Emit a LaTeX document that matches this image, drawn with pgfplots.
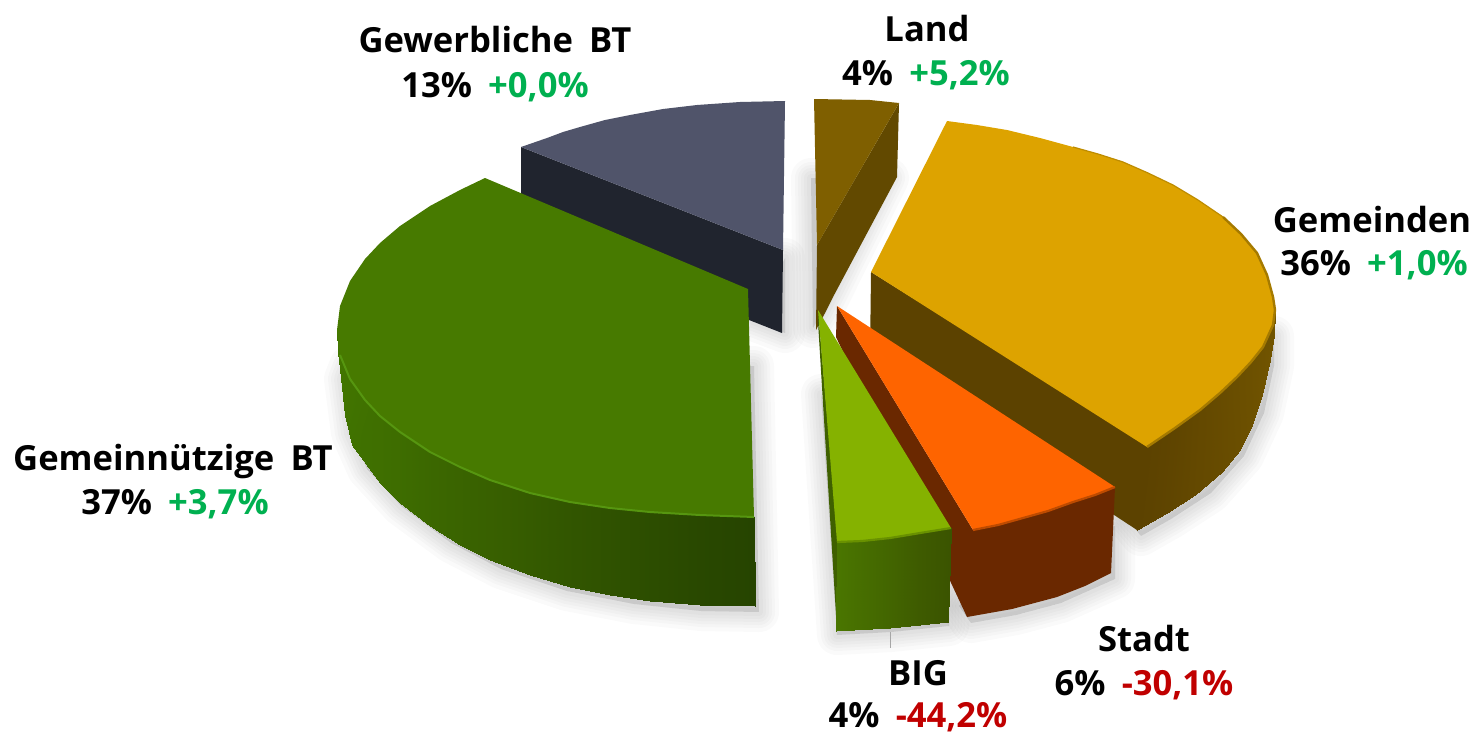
\documentclass[border=0pt]{standalone}
\usepackage{pgfplots}
\usepackage{pgfplotstable}
\usepackage{fontspec}
\setmainfont[WordSpace=1.8]{Open Sans}
\pgfplotsset{compat=1.18}
\definecolor{tgreen}{HTML}{00B050}
\definecolor{tred}{HTML}{C00000}
\pgfplotsset{
 colormap={mgreen}{rgb255=(66,118,0) rgb255=(55,94,0) rgb255=(38,68,0)},
 colormap={mgold}{rgb255=(114,85,0) rgb255=(92,66,0)},
 colormap={mlight}{rgb255=(74,118,0) rgb255=(59,84,0)},
}
\tikzset{lbl/.style={font=\fontsize{17.3}{20}\selectfont\bfseries,anchor=base,inner sep=0pt}}
\pgfplotstableread{
x y
760 300
782 255
782 330
750 318
}\shGrey
\pgfplotstableread{
x y
750 360
345 360
340 373
347 427
363 463
397 500
447 537
497 563
563 585
630 598
697 605
755 606
}\shGreen
\pgfplotstableread{
x y
1190 330
1270 330
1270 360
1260 407
1240 450
1207 487
1167 513
1137 530
1120 510
}\shGold
\pgfplotstableread{
x y
1000 540
1111 520
1111 573
1057 597
1012 609
967 617
955 600
}\shOrange
\pgfplotstableread{
x y
820 390
850 540
948 540
948 622
890 628
836 631
}\shLight
\pgfplotstableread{
x y
814 178
892 178
825 313
816 328
}\shLand
\newcommand\shad[3]{%
 \addplot[fill=black,draw=black,opacity=0.018,line width=20pt,line join=round] table[x expr=\thisrow{x}+#2,y expr=\thisrow{y}+#3] {#1} --cycle;
 \addplot[fill=black,draw=black,opacity=0.018,line width=16pt,line join=round] table[x expr=\thisrow{x}+#2,y expr=\thisrow{y}+#3] {#1} --cycle;
 \addplot[fill=black,draw=black,opacity=0.018,line width=13pt,line join=round] table[x expr=\thisrow{x}+#2,y expr=\thisrow{y}+#3] {#1} --cycle;
 \addplot[fill=black,draw=black,opacity=0.018,line width=10pt,line join=round] table[x expr=\thisrow{x}+#2,y expr=\thisrow{y}+#3] {#1} --cycle;
 \addplot[fill=black,draw=black,opacity=0.018,line width=7pt,line join=round] table[x expr=\thisrow{x}+#2,y expr=\thisrow{y}+#3] {#1} --cycle;
 \addplot[fill=black,draw=black,opacity=0.018,line width=4pt,line join=round] table[x expr=\thisrow{x}+#2,y expr=\thisrow{y}+#3] {#1} --cycle;
}
\begin{document}
\begin{tikzpicture}
\begin{axis}[
 scale only axis,width=738pt,height=367pt,
 xmin=0,xmax=1476,ymin=0,ymax=734,y dir=reverse,
 axis lines=none,clip=false,
 point meta min=0,point meta max=1,
]
% soft shadows
\shad{\shGrey}{3}{3}
\shad{\shLand}{-3}{0}
\shad{\shGold}{4}{6}
\shad{\shGreen}{4}{6}
\shad{\shOrange}{4}{6}
\shad{\shLight}{1}{4}

% Gewerbliche BT
\addplot[fill={rgb,255:red,32;green,36;blue,46},draw=none] coordinates {(521,147)(783,250)(782,333)(521,230)} --cycle;
\addplot[fill={rgb,255:red,80;green,84;blue,106},draw=none] coordinates {(783,250)(785,101)(740,102)(697,105)(663,109)(630,115)(605,120)(580,127)(563,132)(547,138)(521,147)} --cycle;

% Land
\addplot[fill={rgb,255:red,98;green,73;blue,0},draw=none] coordinates {(899,103)(897,177)(833,297)(825,313)(816,330)(817,245)} --cycle;
\addplot[fill={rgb,255:red,127;green,95;blue,0},draw=none] coordinates {(814,99)(870,100)(899,103)(817,245)} --cycle;

% Gemeinnuetzige BT side
\addplot[surf,shader=interp,colormap name=mgreen,mesh/rows=2,point meta=explicit] table[meta=c] {
x y c
337 330 0
340 355 .02
350 379 .05
365 400 .1
380 416 .15
400 432 .2
430 452 .3
460 467 .38
490 480 .46
530 493 .56
570 502 .66
610 508 .74
650 512 .82
700 515 .92
754 517 1
338 352 0
341 378 .02
345 415 .05
352 445 .1
380 483 .15
400 503 .2
430 526 .3
460 545 .38
490 560 .46
530 575 .56
570 587 .66
610 595 .74
650 601 .82
700 605 .92
755 606 1
};
% Gemeinnuetzige BT top
\addplot[fill={rgb,255:red,71;green,122;blue,0},draw=none] coordinates {(748,289)(485,178)(460,190)(430,206)(400,226)(380,243)(365,259)(350,281)(340,306)(337,330)(340,355)(350,379)(365,400)(380,416)(400,432)(430,452)(460,467)(490,480)(530,493)(570,502)(610,508)(650,512)(700,515)(754,517)} --cycle;
\addplot[draw={rgb,255:red,86;green,150;blue,16},line width=1pt] coordinates {(340,355)(350,379)(365,400)(380,416)(400,432)(430,452)(460,467)(490,480)(530,493)(570,502)(610,508)(650,512)(700,515)(754,517)};

% Gemeinden straight face and outer side
\addplot[fill={rgb,255:red,92;green,66;blue,0},draw=none] coordinates {(871,272)(1151,447)(1141,528)(1137,530)(870,355)} --cycle;
\addplot[surf,shader=interp,colormap name=mgold,mesh/rows=2,point meta=explicit] table[meta=c] {
x y c
1273 297 0
1275 310 0
1273 325 .05
1263 347 .15
1251 362 .25
1237 377 .35
1220 393 .5
1200 410 .65
1175 428 .85
1147 447 1
1275 312 0
1274 335 0
1270 360 .05
1262 395 .15
1252 425 .25
1240 450 .35
1222 472 .5
1195 495 .65
1167 513 .85
1137 530 1
};
\addplot[fill={rgb,255:red,221;green,163;blue,0},draw=none] coordinates {(871,272)(947,121)(977,125)(1007,130)(1040,138)(1073,147)(1098,154)(1123,162)(1148,173)(1173,185)(1198,200)(1223,217)(1241,234)(1257,253)(1267,275)(1273,297)(1275,310)(1273,325)(1263,347)(1251,362)(1237,377)(1220,393)(1200,410)(1175,428)(1147,447)} --cycle;
\addplot[draw={rgb,255:red,190;green,140;blue,0},line width=.6pt] coordinates {(1073,147)(1098,154)(1123,162)(1148,173)(1173,185)(1198,200)(1223,217)};
\addplot[draw={rgb,255:red,165;green,122;blue,0},line width=1.2pt] coordinates {(1223,217)(1241,234)(1257,253)(1267,275)(1273,297)(1275,310)(1273,325)(1263,347)(1251,362)(1237,377)(1220,393)(1200,410)(1175,428)(1147,447)};

% Stadt
\addplot[fill={rgb,255:red,106;green,40;blue,0},draw=none] coordinates {(837,306)(973,530)(973,612)(967,617)(836,337)} --cycle;
\addplot[fill={rgb,255:red,106;green,40;blue,0},draw=none] coordinates {(970,530)(1023,518)(1073,502)(1115,487)(1111,573)(1085,586)(1057,597)(1012,609)(967,617)} --cycle;
\addplot[fill={rgb,255:red,254;green,100;blue,0},draw=none] coordinates {(837,306)(1115,487)(1095,495)(1073,502)(1048,511)(1023,518)(998,525)(973,530)} --cycle;
\addplot[draw={rgb,255:red,190;green,75;blue,0},line width=1.1pt] coordinates {(1115,487)(1095,495)(1073,502)(1048,511)(1023,518)(998,525)(973,530)};

% BIG
\addplot[fill={rgb,255:red,63;green,96;blue,0},draw=none] coordinates {(818,310)(838,542)(837,631)(818,322)} --cycle;
\addplot[surf,shader=interp,colormap name=mlight,mesh/rows=2,point meta=explicit] table[meta=c] {
x y c
837 542 0
890 538 .5
920 533 .8
951 528 1
836 631 0
890 628 .5
920 625 .8
948 622 1
};
\addplot[fill={rgb,255:red,133;green,178;blue,0},draw=none] coordinates {(818,310)(951,528)(920,533)(890,538)(862,541)(837,542)} --cycle;
\addplot[draw={rgb,255:red,105;green,145;blue,0},line width=1.1pt] coordinates {(951,528)(920,533)(890,538)(862,541)(837,542)};

% leader
\addplot[draw=gray!70,line width=.5pt] coordinates {(890,632)(890,648)};

% labels
\node[lbl] at (axis cs:495,52) {Gewerbliche BT};
\node[lbl] at (axis cs:495,97) {13\% \textcolor{tgreen}{+0,0\%}};
\node[lbl] at (axis cs:927,41) {Land};
\node[lbl] at (axis cs:926,85) {4\% \textcolor{tgreen}{+5,2\%}};
\node[lbl] at (axis cs:1372,232) {Gemeinden};
\node[lbl] at (axis cs:1374,275) {36\% \textcolor{tgreen}{+1,0\%}};
\node[lbl] at (axis cs:173,470) {Gemeinnützige BT};
\node[lbl] at (axis cs:175,514) {37\% \textcolor{tgreen}{+3,7\%}};
\node[lbl] at (axis cs:1144,651) {Stadt};
\node[lbl] at (axis cs:1144,695) {6\% \textcolor{tred}{-30,1\%}};
\node[lbl] at (axis cs:918,685) {BIG};
\node[lbl] at (axis cs:918,727) {4\% \textcolor{tred}{-44,2\%}};
\end{axis}
\pgfresetboundingbox
\useasboundingbox (0,0) rectangle (738pt,367pt);
\end{tikzpicture}
\end{document}
